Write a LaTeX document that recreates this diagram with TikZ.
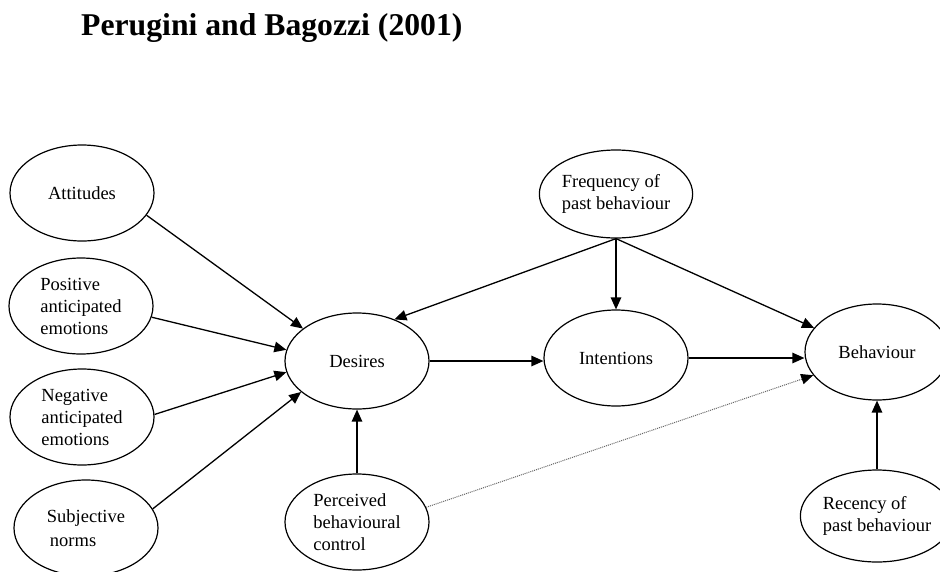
\documentclass[tikz,border=0pt]{standalone}
\usepackage{fontspec}
\setmainfont{Liberation Serif}
\usetikzlibrary{shapes.geometric,arrows.meta}
\begin{document}
\begin{tikzpicture}[x=1pt,y=-1pt,
  construct/.style={ellipse,draw,line width=1.2pt,minimum width=144pt,
    minimum height=96pt,inner sep=0pt,align=left,
    font=\fontsize{18.5}{22}\selectfont},
  link/.style={line width=1.3pt,-{Triangle[length=12pt,width=10.5pt]}},
  weak/.style={line width=1pt,gray!80!black,densely dotted,
    -{Triangle[length=12pt,width=10.5pt,color=black]}}]
\useasboundingbox (0,0) rectangle (940,571);
\clip (0,0) rectangle (940,571);

% heading
\node[anchor=base west,inner sep=0pt,font=\bfseries\fontsize{31.7}{36}\selectfont]
  (title) at (81,35) {Perugini and Bagozzi (2001)};

% antecedents of desires
\node[construct] (att)  at (82,193) {Attitudes};
\node[construct] (pos)  at (81,306) {Positive\\anticipated\\emotions};
\node[construct] (neg)  at (82,417) {Negative\\anticipated\\emotions};
\node[construct] (subj) at (86,528) {Subjective\\[2pt]\hspace{3pt}norms};

% central chain
\node[construct] (des)  at (357,361) {Desires};
\node[construct] (perc) at (357,522) {Perceived\\behavioural\\control};
\node[construct,minimum height=88pt] (freq) at (616,194) {Frequency of\\past behaviour};
\node[construct] (int)  at (616,358) {Intentions};
\node[construct] (beh)  at (877,352) {Behaviour};
\node[construct,minimum height=92pt] (rec) at (877,516) {Recency of\\past behaviour};

% paths
\draw[link] (att.-19) -- (des.149);
\draw[link] (pos.-9)  -- (des.171);
\draw[link] (neg.2)   -- (des.189);
\draw[link] (subj.16) -- (des.209);
\draw[link] (freq.south) -- (des.48);
\draw[link] (freq.south) -- (int.north);
\draw[link] (freq.south) -- (beh.159);
\draw[link] (des.east) -- (des.east -| int.west);
\draw[link] (int.east) -- (int.east -| beh.west);
\draw[link] (perc.north) -- (des.south);
\draw[weak] (perc.12) -- (beh.200);
\draw[link] (rec.north) -- (beh.south);
\end{tikzpicture}
\end{document}
